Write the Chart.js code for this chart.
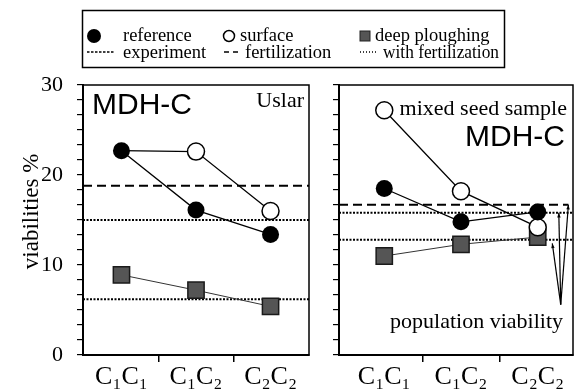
<!DOCTYPE html>
<html>
<head>
<meta charset="utf-8">
<script src="https://cdn.jsdelivr.net/npm/chart.js@4.4.1/dist/chart.umd.min.js"></script>
<style>
  body { margin: 0; background: #fff; width: 586px; height: 392px; overflow: hidden; position: relative; }
  canvas { position: absolute; top: 0; }
  #uslar { left: 0; }
  #mixed { left: 322px; }
  #legend { position: absolute; left: 0; top: 0; font-family: "Liberation Serif", "DejaVu Serif", serif; }
</style>
</head>
<body>
<canvas id="uslar" width="322" height="392"></canvas>
<canvas id="mixed" width="264" height="392"></canvas>

<svg id="legend" width="586" height="70">
  <rect x="82.5" y="10.5" width="422" height="57" fill="none" stroke="#000" stroke-width="1.5"/>
  <circle cx="94" cy="36" r="7" fill="#000"/>
  <text x="123" y="41" font-size="18.5">reference</text>
  <circle cx="229" cy="36" r="5.5" fill="#fff" stroke="#000" stroke-width="1.5"/>
  <text x="240" y="41" font-size="18.5">surface</text>
  <rect x="360" y="31" width="10" height="10" fill="#555" stroke="#222" stroke-width="1"/>
  <text x="375" y="41" font-size="18.5">deep ploughing</text>
  <line x1="87" y1="52" x2="115" y2="52" stroke="#000" stroke-width="1.5" stroke-dasharray="2.5,1.5"/>
  <text x="123" y="58" font-size="18.5">experiment</text>
  <line x1="224" y1="52" x2="240" y2="52" stroke="#000" stroke-width="1.5" stroke-dasharray="5,4"/>
  <text x="245" y="58" font-size="18.5">fertilization</text>
  <line x1="360" y1="52" x2="378" y2="52" stroke="#000" stroke-width="1.5" stroke-dasharray="1,2"/>
  <text x="383" y="58" font-size="18.5" textLength="116" lengthAdjust="spacingAndGlyphs">with fertilization</text>
</svg>

<script>
const categories = ["C\u2081C\u2081", "C\u2081C\u2082", "C\u2082C\u2082"];
const yTickLabels = [0, 10, 20, 30];

// Uslar panel
const uslarReference = [22.7, 16.1, 13.4];
const uslarSurface = [22.7, 22.6, 16.0];
const uslarDeep = [8.9, 7.2, 5.4];
const uslarFertilization = [18.8];
const uslarWithFertilization = [15.0, 6.2];

// mixed seed sample panel
const mixedReference = [18.5, 14.8, 15.9];
const mixedSurface = [27.2, 18.2, 14.2];
const mixedDeep = [11.0, 12.3, 13.1];
const mixedFertilization = [16.7];
const mixedWithFertilization = [15.8, 12.8];

// "population viability" arrows: tip and the levels they point at
const arrowTip = [2.3, 5.6];
const arrowTargets = [[2.19, 12.4], [2.275, 15.8], [2.4, 16.7]];

const serif = "'Liberation Serif', 'DejaVu Serif', serif";
const sans = "'Liberation Sans', Arial, sans-serif";

function pts(vals) {
  return vals.map((v, i) => ({ x: i, y: v }));
}
function hline(v, x0, x1) {
  return [{ x: x0, y: v }, { x: x1, y: v }];
}

const framePlugin = {
  id: "frame",
  beforeDatasetsDraw(chart) {
    const { ctx, chartArea: a } = chart;
    ctx.save();
    ctx.strokeStyle = "#000";
    ctx.lineWidth = 1.5;
    ctx.strokeRect(a.left, a.top, a.right - a.left, a.bottom - a.top);
    ctx.restore();
  }
};

const notesPlugin = {
  id: "notes",
  afterDraw(chart, args, opts) {
    const { ctx, chartArea: a } = chart;
    ctx.save();
    ctx.fillStyle = "#000";
    ctx.textBaseline = "alphabetic";
    (opts.items || []).forEach(n => {
      ctx.font = n.font;
      ctx.textAlign = n.align;
      const x = n.align === "left" ? a.left + n.dx : a.right - n.dx;
      ctx.fillText(n.text, x, n.y);
    });
    // arrows
    if (opts.arrows) {
      const xs = chart.scales.x, ys = chart.scales.y;
      const tx = xs.getPixelForValue(arrowTip[0]), ty = ys.getPixelForValue(arrowTip[1]);
      ctx.strokeStyle = "#000";
      ctx.lineWidth = 1.2;
      arrowTargets.forEach(t => {
        const px = xs.getPixelForValue(t[0]), py = ys.getPixelForValue(t[1]);
        ctx.beginPath();
        ctx.moveTo(tx, ty);
        ctx.lineTo(px, py);
        ctx.stroke();
        const ang = Math.atan2(py - ty, px - tx);
        ctx.beginPath();
        ctx.moveTo(px, py);
        ctx.lineTo(px - 5 * Math.cos(ang - 0.35), py - 5 * Math.sin(ang - 0.35));
        ctx.lineTo(px - 5 * Math.cos(ang + 0.35), py - 5 * Math.sin(ang + 0.35));
        ctx.closePath();
        ctx.fillStyle = "#000";
        ctx.fill();
      });
    }
    ctx.restore();
  }
};

function makePanel(id, o) {
  return new Chart(id, {
    type: "line",
    data: {
      datasets: [
        {
          label: "reference",
          data: pts(o.reference),
          borderColor: "#000",
          borderWidth: 1.3,
          pointRadius: 8.5,
          pointBackgroundColor: "#000",
          pointBorderWidth: 0,
          order: 1
        },
        {
          label: "surface",
          data: pts(o.surface),
          borderColor: "#000",
          borderWidth: 1.3,
          pointRadius: o.surfaceRadius,
          pointBackgroundColor: "#fff",
          pointBorderColor: "#000",
          pointBorderWidth: 1.5,
          order: 2
        },
        {
          label: "deep ploughing",
          data: pts(o.deep),
          borderColor: "#333",
          borderWidth: 1,
          pointStyle: "rect",
          pointRadius: 11.5,
          pointBackgroundColor: "#555",
          pointBorderColor: "#1a1a1a",
          pointBorderWidth: 1.5,
          order: 3
        },
        {
          label: "fertilization",
          data: hline(o.fert[0], o.xmin, o.fertEnd),
          borderColor: "#000",
          borderWidth: 2,
          borderDash: [9, 5],
          pointRadius: 0,
          order: 10
        },
        ...o.withFert.map(v => ({
          label: "with fertilization",
          data: hline(v, o.xmin, o.xmax),
          borderColor: "#000",
          borderWidth: 2,
          borderDash: [2, 1.5],
          pointRadius: 0,
          order: 10
        }))
      ]
    },
    options: {
      responsive: false,
      animation: false,
      devicePixelRatio: 1,
      layout: { padding: { top: 85, right: o.padRight, left: 0, bottom: 0 } },
      elements: { line: { tension: 0, fill: false } },
      plugins: {
        legend: { display: false },
        tooltip: { enabled: false },
        notes: { items: o.notes, arrows: o.arrows }
      },
      scales: {
        x: {
          type: "linear",
          min: o.xmin,
          max: o.xmax,
          afterBuildTicks: s => { s.ticks = [0, 0.5, 1, 1.5, 2].map(v => ({ value: v })); },
          afterFit: s => { s.height = 37; },
          ticks: {
            autoSkip: false,
            maxRotation: 0,
            padding: 0,
            color: "#000",
            font: { family: serif, size: 26 },
            callback: v => Number.isInteger(v) ? categories[v] : ""
          },
          grid: {
            drawOnChartArea: false,
            tickLength: 7,
            lineWidth: 1.5,
            color: c => (c.tick && c.tick.value % 1) ? "#000" : "rgba(0,0,0,0)"
          },
          border: { color: "#000", width: 2 }
        },
        y: {
          type: "linear",
          min: 0,
          max: 30,
          afterBuildTicks: s => { s.ticks = Array.from({ length: 19 }, (_, i) => ({ value: i * 10 / 6 })); },
          afterFit: s => { s.width = o.yWidth; },
          title: {
            display: o.showTitle,
            text: "   viabilities %",
            color: "#000",
            font: { family: serif, size: 23 },
            padding: { top: 18, bottom: 0 }
          },
          ticks: {
            autoSkip: false,
            padding: 14,
            color: "#000",
            font: { family: serif, size: 22 },
            callback: (v, i) => (o.showLabels && i % 6 === 0) ? String(yTickLabels[i / 6]) : ""
          },
          grid: { drawOnChartArea: false, tickLength: 6, lineWidth: 1.2, color: "#000" },
          border: { color: "#000", width: 2 }
        }
      }
    },
    plugins: [framePlugin, notesPlugin]
  });
}

makePanel("uslar", {
  reference: uslarReference,
  surface: uslarSurface,
  surfaceRadius: [0, 8.5, 8.5],
  deep: uslarDeep,
  fert: uslarFertilization,
  withFert: uslarWithFertilization,
  xmin: -0.516, xmax: 2.516, fertEnd: 2.516,
  padRight: 4, yWidth: 83,
  showTitle: true, showLabels: true,
  notes: [
    { text: "MDH-C", font: "30px " + sans, align: "left", dx: 9, y: 114 },
    { text: "Uslar", font: "22px " + serif, align: "right", dx: 5, y: 107 }
  ],
  arrows: false
});

makePanel("mixed", {
  reference: mixedReference,
  surface: mixedSurface,
  surfaceRadius: 8.5,
  deep: mixedDeep,
  fert: mixedFertilization,
  withFert: mixedWithFertilization,
  xmin: -0.59, xmax: 2.46, fertEnd: 2.4,
  padRight: 3, yWidth: 17,
  showTitle: false, showLabels: false,
  notes: [
    { text: "mixed seed sample", font: "22px " + serif, align: "right", dx: 6, y: 115 },
    { text: "MDH-C", font: "30px " + sans, align: "right", dx: 8, y: 146 },
    { text: "population viability", font: "22px " + serif, align: "right", dx: 10, y: 328 }
  ],
  arrows: true
});
</script>
</body>
</html>
